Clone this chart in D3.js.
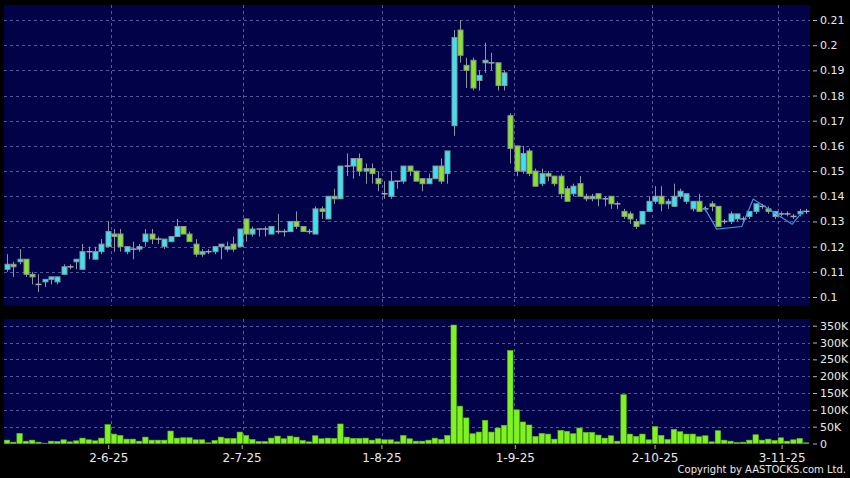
<!DOCTYPE html>
<html lang="en">
<head>
<meta charset="utf-8">
<title>Stock chart</title>
<script src="https://d3js.org/d3.v7.min.js"></script>
<style>
  body { margin: 0; background: #000; }
  text { font-family: "DejaVu Sans", sans-serif; fill: #e8e8e8; }
</style>
</head>
<body>
<svg width="850" height="478"></svg>
<script>
// daily bars, index 0 = first trading day shown
var openP = [.111,.113,.114,.115,.109,.105,.106,.107,.106,.109,
  .112,.114,.111,.118,.115,.118,.120,.125,.125,.118,
  .119,.119,.122,.125,.123,.120,.122,.124,.128,.125,
  .121,.117,.118,.118,.120,.119,.121,.120,.131,.125,
  .127,.127,.125,.126,.126,.126,.130,.128,.126,.125,
  .135,.131,.140,.139,.152,.152,.155,.150,.151,.147,
  .141,.140,.146,.146,.152,.150,.147,.145,.147,.152,
  .149,.168,.206,.192,.194,.186,.193,.193,.193,.184,
  .172,.160,.150,.158,.150,.145,.149,.148,.148,.143,
  .141,.145,.140,.139,.141,.139,.140,.137,.134,.133,
  .130,.129,.134,.138,.140,.137,.136,.140,.138,.135,
  .138,.135,.137,.136,.130,.130,.131,.131,.132,.134,
  .136,.135,.132,.133,.133,.132,.133,.134];
var highP = [.117,.114,.119,.115,.110,.109,.107,.108,.108,.113,
  .113,.115,.121,.120,.120,.123,.130,.127,.127,.120,
  .122,.121,.127,.127,.124,.123,.124,.131,.128,.126,
  .123,.119,.119,.120,.121,.122,.124,.127,.131,.128,
  .127,.128,.128,.133,.127,.130,.134,.128,.127,.136,
  .136,.140,.143,.152,.157,.155,.157,.153,.153,.150,
  .146,.150,.146,.152,.152,.150,.147,.149,.152,.155,
  .158,.206,.210,.195,.195,.190,.201,.197,.193,.190,
  .173,.160,.160,.159,.151,.151,.150,.148,.149,.144,
  .145,.148,.141,.141,.141,.140,.140,.138,.135,.134,
  .131,.134,.140,.144,.144,.139,.145,.143,.141,.138,
  .141,.136,.138,.136,.131,.134,.133,.132,.134,.137,
  .137,.136,.134,.134,.134,.133,.135,.135];
var lowP = [.110,.108,.113,.108,.105,.102,.104,.105,.105,.109,
  .111,.111,.111,.115,.115,.117,.120,.118,.118,.117,
  .115,.118,.120,.121,.121,.119,.122,.124,.125,.122,
  .116,.116,.117,.117,.115,.118,.118,.120,.122,.124,
  .124,.124,.125,.125,.124,.126,.127,.126,.125,.125,
  .131,.131,.137,.139,.148,.147,.148,.145,.145,.142,
  .139,.139,.143,.145,.148,.146,.142,.145,.147,.145,
  .145,.164,.193,.183,.182,.182,.189,.190,.182,.182,
  .153,.148,.149,.148,.144,.144,.146,.144,.139,.138,
  .140,.140,.138,.138,.136,.136,.135,.135,.131,.129,
  .127,.129,.134,.137,.134,.135,.136,.139,.137,.134,
  .134,.134,.134,.128,.129,.129,.130,.130,.131,.133,
  .135,.133,.131,.132,.132,.131,.132,.133];
var closeP = [.113,.112,.115,.109,.108,.105,.107,.108,.108,.112,
  .112,.115,.118,.118,.118,.121,.126,.124,.120,.120,
  .119,.120,.125,.123,.123,.123,.124,.128,.125,.122,
  .117,.118,.118,.120,.121,.120,.119,.127,.125,.127,
  .127,.127,.128,.126,.126,.130,.128,.126,.126,.135,
  .134,.140,.139,.152,.152,.155,.150,.151,.149,.145,
  .141,.146,.146,.152,.150,.146,.145,.147,.152,.146,
  .158,.203,.196,.190,.183,.188,.194,.193,.184,.189,
  .159,.150,.157,.149,.144,.149,.148,.145,.141,.138,
  .144,.140,.139,.140,.139,.139,.137,.137,.132,.131,
  .128,.134,.138,.140,.137,.138,.140,.142,.141,.138,
  .134,.135,.136,.128,.130,.133,.133,.131,.134,.137,
  .136,.134,.134,.133,.133,.132,.134,.134];
// volume in thousands of shares
var volumeK = [10,4,30,7,10,4,1,7,6,11,
  5,8,16,11,8,16,56,28,24,13,
  13,7,19,10,10,10,37,16,17,17,
  11,11,2,9,19,15,15,34,24,12,
  6,6,16,22,14,22,19,9,5,23,
  14,16,15,58,19,15,15,16,10,14,
  11,11,5,24,14,7,7,10,16,12,
  24,352,111,76,29,34,69,34,46,54,
  276,100,64,55,21,30,28,13,39,36,
  29,46,33,33,25,16,23,7,145,28,
  21,28,11,50,24,12,42,35,28,28,
  20,23,5,38,10,7,3,4,10,26,
  10,13,9,17,7,11,15,2];

// thin overlay line near the right end (bar position, price)
var overlayPos = [110.8, 112.8, 116.8, 118.6, 124.8, 126.6];
var overlayVal = [.1357, .127, .128, .1389, .1289, .1343];

var monthIdx = [16, 37, 59, 80, 102, 122];
var monthLabels = ["2-6-25", "2-7-25", "1-8-25", "1-9-25", "2-10-25", "3-11-25"];
var priceTicks = [0.1, 0.11, 0.12, 0.13, 0.14, 0.15, 0.16, 0.17, 0.18, 0.19, 0.2, 0.21];
var volTicks = [0, 50000, 100000, 150000, 200000, 250000, 300000, 350000];
var volLabels = ["0", "50K", "100K", "150K", "200K", "250K", "300K", "350K"];

var svg = d3.select("svg");
svg.append("rect").attr("width", 850).attr("height", 478).attr("fill", "#000");

var left = 4, right = 810;
var pTop = 5, pBottom = 306, vTop = 319, vBottom = 444;
var n = closeP.length;

var x = d3.scaleLinear().domain([0, n - 1]).range([7, 806]);
var xLab = d3.scaleLinear().domain([0, n - 1]).range([6.6, 813.4]);
var y = d3.scaleLinear().domain([0.1, 0.21]).range([297, 20]);
var yv = d3.scaleLinear().domain([0, 350000]).range([443.5, 325.7]);

var navy = "#020248", grid = "#55559a";
var upCol = "#38e4f2", downCol = "#86e626", edge = "#8c9696";

svg.append("rect").attr("x", left).attr("y", pTop).attr("width", right - left)
  .attr("height", pBottom - pTop).attr("fill", navy);
svg.append("rect").attr("x", left).attr("y", vTop).attr("width", right - left)
  .attr("height", vBottom - vTop).attr("fill", navy);

// grid
var g = svg.append("g").attr("stroke", grid).attr("stroke-dasharray", "3,3").attr("stroke-width", 1);
g.selectAll(".hp").data(priceTicks).enter().append("line")
  .attr("x1", left).attr("x2", right)
  .attr("y1", function(d) { return Math.round(y(d)) + 0.5; })
  .attr("y2", function(d) { return Math.round(y(d)) + 0.5; });
g.selectAll(".hv").data(volTicks.slice(1)).enter().append("line")
  .attr("x1", left).attr("x2", right)
  .attr("y1", function(d) { return Math.round(yv(d)) + 0.5; })
  .attr("y2", function(d) { return Math.round(yv(d)) + 0.5; });
monthIdx.forEach(function(i) {
  var gx = Math.round(x(i) + 3.7) + 0.5;
  g.append("line").attr("x1", gx).attr("x2", gx).attr("y1", pTop).attr("y2", pBottom);
  g.append("line").attr("x1", gx).attr("x2", gx).attr("y1", vTop).attr("y2", vBottom);
});

// volume bars
svg.append("g").selectAll("rect").data(volumeK).enter().append("rect")
  .attr("x", function(d, i) { return x(i) - 2.7; })
  .attr("width", 5.4)
  .attr("y", function(d) { return yv(d * 1000); })
  .attr("height", function(d) { return yv(0) - yv(d * 1000); })
  .attr("fill", "#7ef222").attr("stroke", "#5fbf14").attr("stroke-width", 0.6);

// candles
var bars = d3.range(n).map(function(i) {
  return { i: i, o: openP[i], h: highP[i], l: lowP[i], c: closeP[i] };
});
var cg = svg.append("g");
cg.selectAll(".wick").data(bars).enter().append("line")
  .attr("x1", function(d) { return Math.round(x(d.i)) + 0.5; })
  .attr("x2", function(d) { return Math.round(x(d.i)) + 0.5; })
  .attr("y1", function(d) { return y(d.h); })
  .attr("y2", function(d) { return y(d.l); })
  .attr("stroke", "#8e969c").attr("stroke-width", 1);
cg.selectAll(".body").data(bars.filter(function(d) { return d.o !== d.c; })).enter().append("rect")
  .attr("x", function(d) { return Math.round(x(d.i)) + 0.5 - 2.5; })
  .attr("width", 5)
  .attr("y", function(d) { return y(Math.max(d.o, d.c)); })
  .attr("height", function(d) { return Math.abs(y(d.o) - y(d.c)); })
  .attr("fill", function(d) { return d.c > d.o ? upCol : downCol; })
  .attr("stroke", edge).attr("stroke-width", 1);
cg.selectAll(".doji").data(bars.filter(function(d) { return d.o === d.c; })).enter().append("line")
  .attr("x1", function(d) { return Math.round(x(d.i)) + 0.5 - 3; })
  .attr("x2", function(d) { return Math.round(x(d.i)) + 0.5 + 3; })
  .attr("y1", function(d) { return y(d.o); })
  .attr("y2", function(d) { return y(d.o); })
  .attr("stroke", "#a4a8ac").attr("stroke-width", 1.5);

// overlay line
svg.append("path")
  .datum(d3.zip(overlayPos, overlayVal))
  .attr("d", d3.line().x(function(d) { return x(d[0]); }).y(function(d) { return y(d[1]); }))
  .attr("fill", "none").attr("stroke", "#3f94dc").attr("stroke-width", 1.2);

// axes
function styleAxis(sel) {
  sel.select(".domain").remove();
  sel.selectAll(".tick line").attr("stroke", "#b4b4b4");
  sel.selectAll(".tick text").attr("fill", "#e8e8e8").attr("font-family", "DejaVu Sans");
}
svg.append("g").attr("transform", "translate(813,0)")
  .call(d3.axisRight(y).tickValues(priceTicks).tickSize(4).tickPadding(3)
    .tickFormat(function(d) { return String(+d.toFixed(2)); }))
  .attr("font-size", 11).call(styleAxis);
svg.append("g").attr("transform", "translate(813,0)")
  .call(d3.axisRight(yv).tickValues(volTicks).tickSize(4).tickPadding(3)
    .tickFormat(function(d, k) { return volLabels[k]; }))
  .attr("font-size", 11).call(styleAxis);
svg.append("g").attr("transform", "translate(0," + (vBottom + 1) + ")")
  .call(d3.axisBottom(xLab).tickValues(monthIdx).tickSize(4).tickPadding(4)
    .tickFormat(function(d, k) { return monthLabels[k]; }))
  .attr("font-size", 12).call(styleAxis);

svg.append("text").attr("x", 846).attr("y", 472.5).attr("text-anchor", "end")
  .attr("font-size", 10)
  .text("Copyright by AASTOCKS.com Ltd.");
</script>
</body>
</html>
